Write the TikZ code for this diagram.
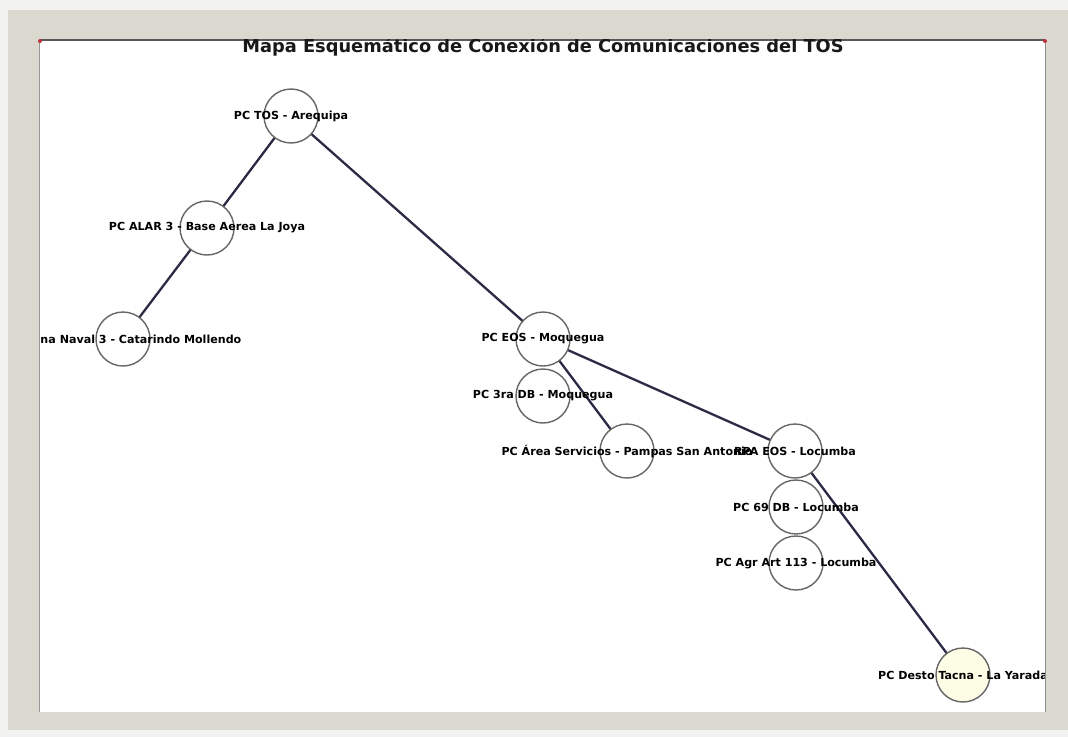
\documentclass[tikz,border=0pt]{standalone}
\usepackage{fontspec}
\setmainfont{DejaVu Sans}
\definecolor{panel}{HTML}{DBD8D0}
\definecolor{outer}{HTML}{F2F2F0}
\definecolor{edgec}{HTML}{2B2B45}
\definecolor{circc}{HTML}{666666}
\definecolor{yell}{HTML}{FDFDE6}
\definecolor{reddot}{HTML}{C0303A}
\pgfdeclarelayer{edgelayer}
\pgfsetlayers{edgelayer,main}
\tikzset{
  nd/.style={circle, draw=circc, line width=1.4pt, fill=white, minimum size=54pt, inner sep=0pt},
  lbl/.style={font=\bfseries\fontsize{11.1}{13}\selectfont, text=black, inner sep=0pt, anchor=center},
  link/.style={draw=edgec, line width=2.3pt},
  ttl/.style={font=\bfseries\fontsize{17.8}{20}\selectfont, text=black!90, inner sep=0pt, anchor=base}
}
\begin{document}
\begin{tikzpicture}[x=1pt,y=-1pt]
\useasboundingbox (0,0) rectangle (1068,737);
% background and frame
\begin{pgfonlayer}{edgelayer}
\fill[outer] (0,0) rectangle (1068,737);
\fill[panel] (8,10) rectangle (1068,730);
\fill[white] (39,40) rectangle (1046,712);
\end{pgfonlayer}
% nodes
\node[nd] (tos) at (291,116) {};
\node[nd] (alar) at (207,228) {};
\node[nd] (naval) at (123,339) {};
\node[nd] (eos) at (543,339) {};
\node[nd] (db3) at (543,396) {};
\node[nd] (serv) at (627,451) {};
\node[nd] (rpa) at (795,451) {};
\node[nd] (db69) at (796,507) {};
\node[nd] (agr) at (796,563) {};
\node[nd, fill=yell] (desto) at (963,675) {};
% edges behind nodes
\begin{pgfonlayer}{edgelayer}
\draw[link] (tos.center) -- (alar.center);
\draw[link] (alar.center) -- (naval.center);
\draw[link] (tos.center) -- (eos.center);
\draw[link] (eos.center) -- (serv.center);
\draw[link] (eos.center) -- (rpa.center);
\draw[link] (rpa.center) -- (desto.center);
\end{pgfonlayer}
% labels, clipped to the plot area
\begin{scope}
\clip (40,40) rectangle (1045,712);
\node[lbl] (ltos) at (tos) {PC TOS - Arequipa};
\node[lbl] (lalar) at (alar) {PC ALAR 3 - Base Aerea La Joya};
\node[lbl] (lnaval) at (naval) {PC Zona Naval 3 - Catarindo Mollendo};
\node[lbl] (leos) at (eos) {PC EOS - Moquegua};
\node[lbl] (ldb3) at (db3) {PC 3ra DB - Moquegua};
\node[lbl] (lserv) at (serv) {PC Área Servicios - Pampas San Antonio};
\node[lbl] (lrpa) at (rpa) {RPA EOS - Locumba};
\node[lbl] (ldb69) at (db69) {PC 69 DB - Locumba};
\node[lbl] (lagr) at (agr) {PC Agr Art 113 - Locumba};
\node[lbl] (ldesto) at (desto) {PC Desto Tacna - La Yarada};
\end{scope}
% title
\draw[black!65, line width=1.5pt] (40,40) -- (1045,40);
\node[ttl] (title) at (543,52) {Mapa Esquemático de Conexión de Comunicaciones del TOS};
\fill[panel] (39,10) rectangle (1046,39.2);
% frame lines
\draw[black!40, line width=1pt] (39.5,40) -- (39.5,712);
\draw[black!45, line width=1pt] (1045.5,40) -- (1045.5,712);
\fill[reddot] (40,41) circle (2pt);
\fill[reddot] (1045,41) circle (2pt);
\end{tikzpicture}
\end{document}
